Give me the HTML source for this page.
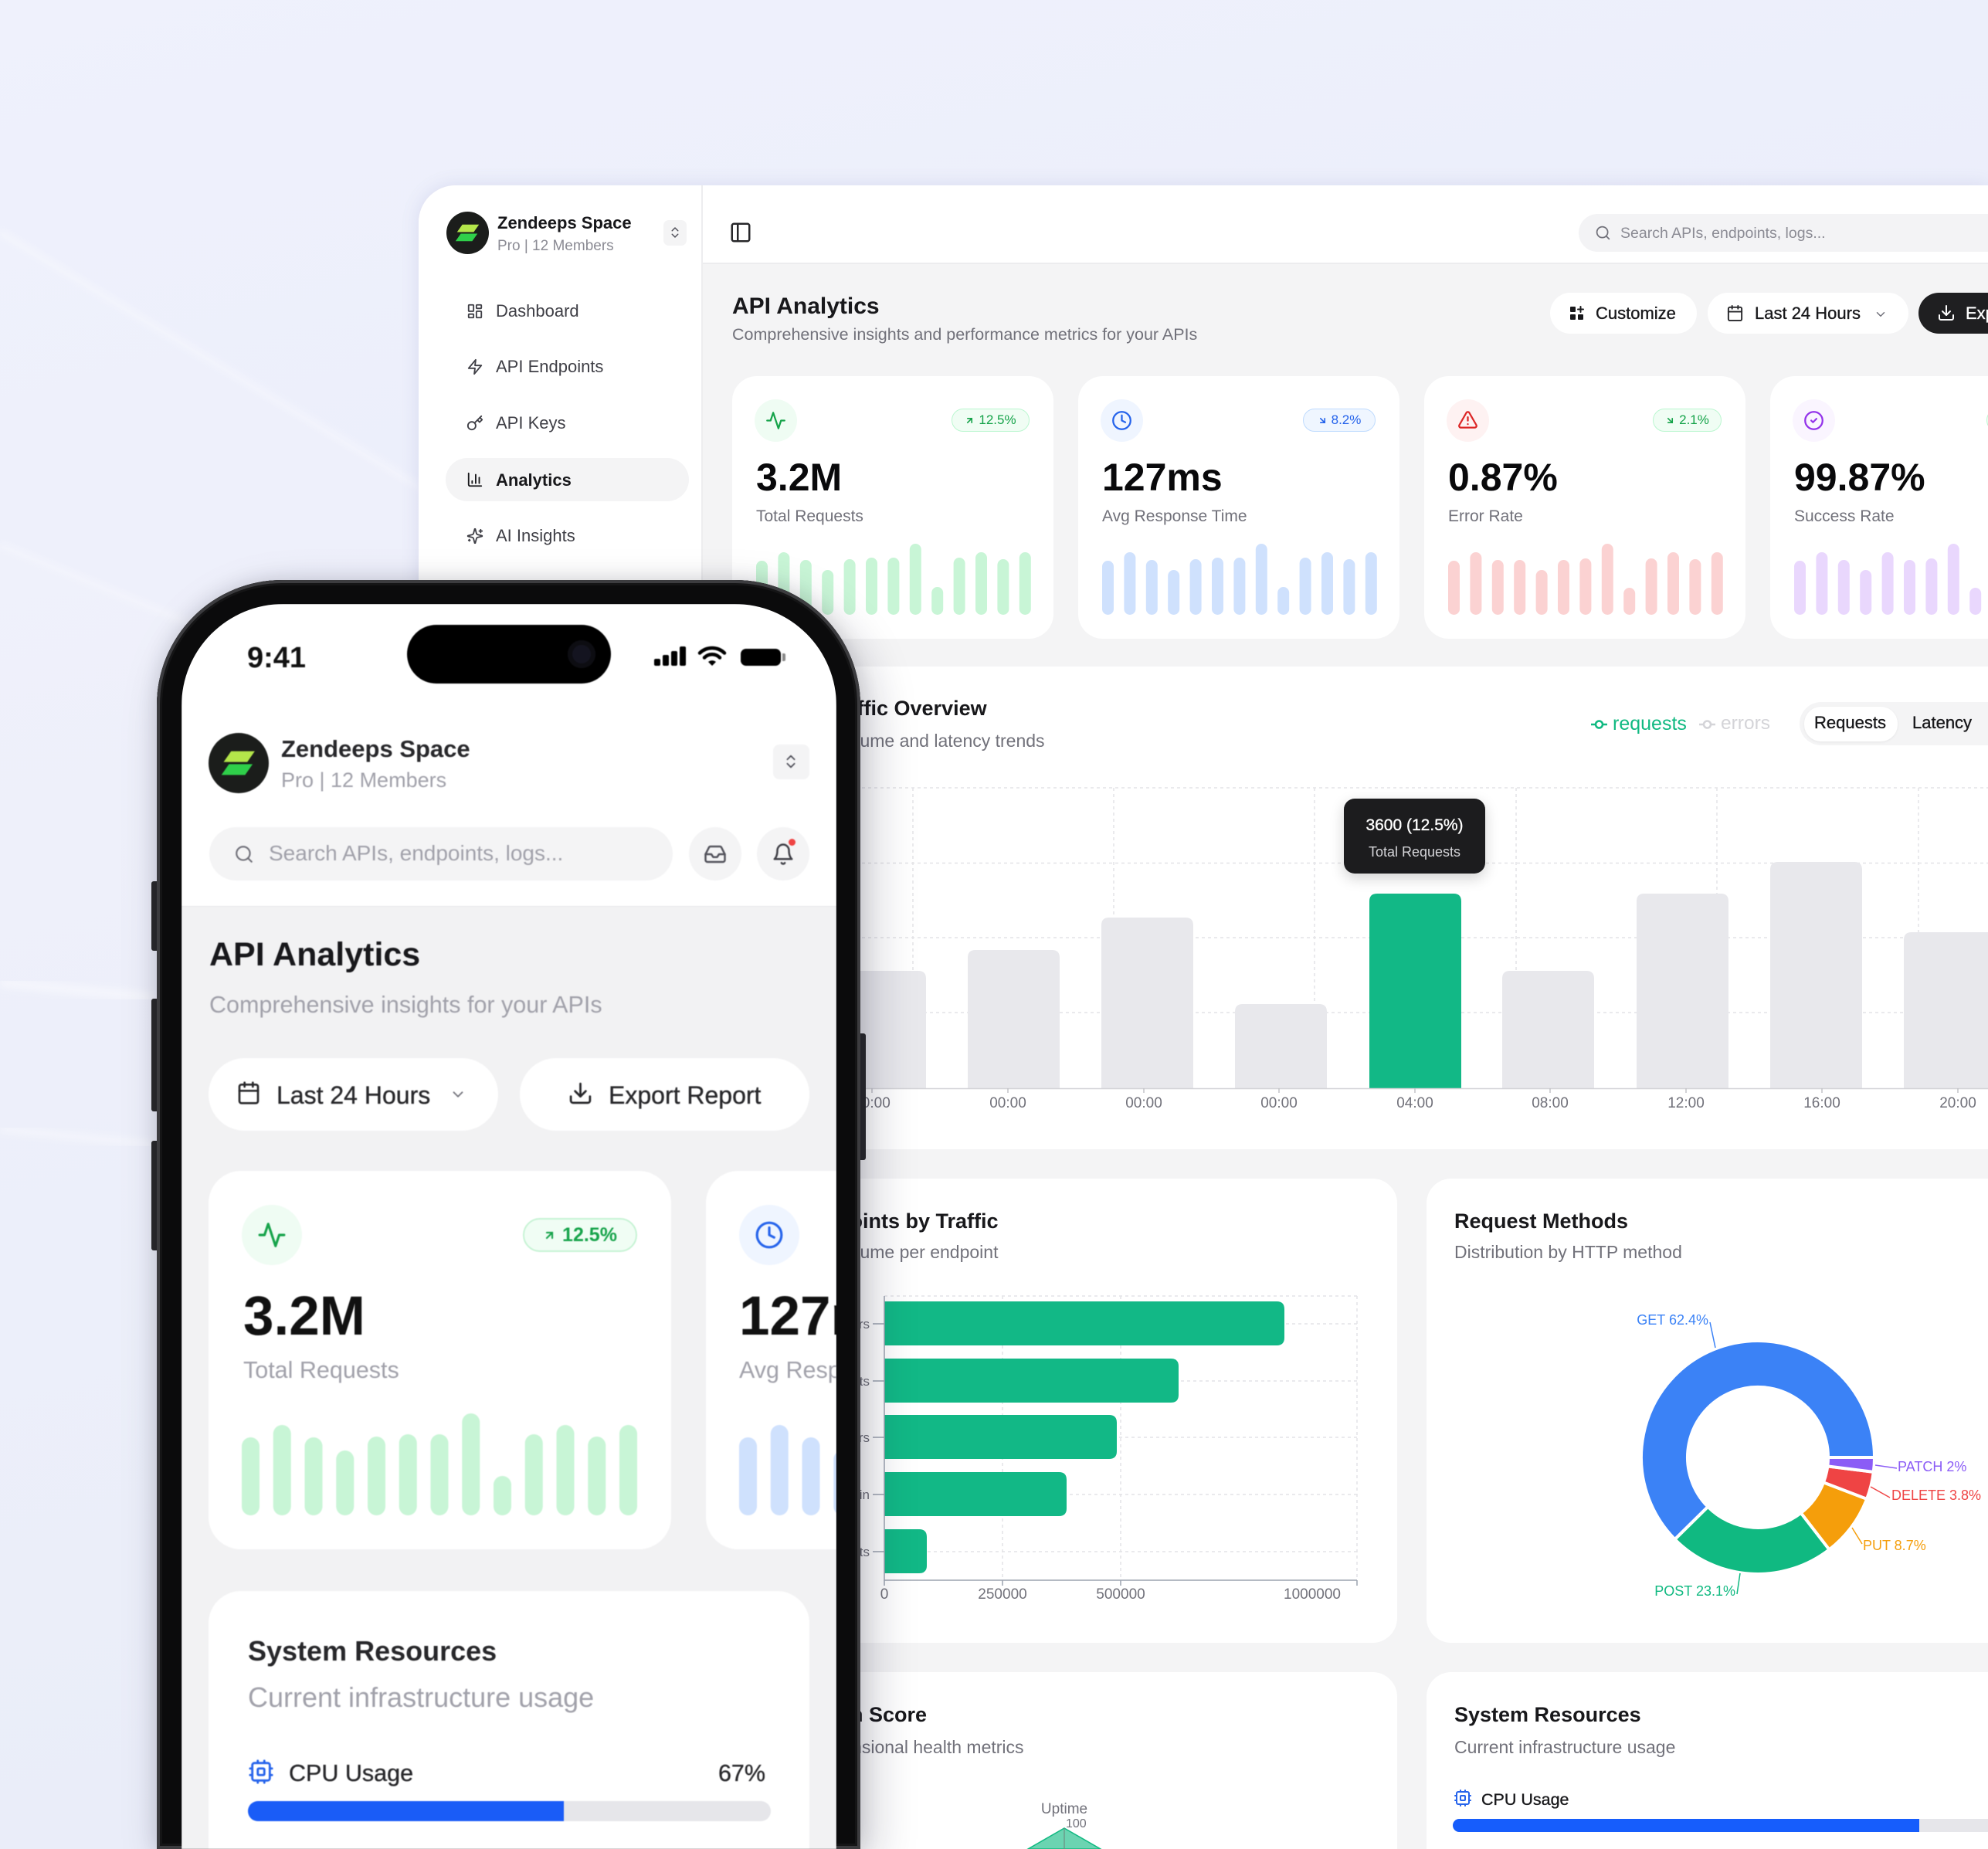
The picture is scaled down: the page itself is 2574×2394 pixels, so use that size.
<!DOCTYPE html>
<html><head><meta charset="utf-8"><style>
*{margin:0;padding:0;box-sizing:border-box}
html,body{width:2574px;height:2394px;overflow:hidden}
body{position:relative;font-family:"Liberation Sans",Arial,sans-serif;background:linear-gradient(165deg,#eff1fc 0%,#eaedfa 45%,#e5e8f8 100%)}
.a{position:absolute}
.t{position:absolute;white-space:nowrap;line-height:1}
.ic{position:absolute;fill:none;stroke-linecap:round;stroke-linejoin:round}
.card{position:absolute;background:#fff;border-radius:32px}
.sub{color:#71717a}
.b{font-weight:bold}
.med{-webkit-text-stroke:0.35px currentColor}
</style></head><body>

<!-- background decorations -->
<svg class="a" style="left:0;top:0" width="2574" height="2394">
 <defs><filter id="bl"><feGaussianBlur stdDeviation="5"/></filter></defs>
 <polygon points="0,300 560,640 560,2394 0,2394" fill="#ffffff" opacity="0.10"/>
 <line x1="0" y1="300" x2="560" y2="640" stroke="#fff" stroke-width="4" opacity="0.7" filter="url(#bl)"/>
 <polygon points="0,705 260,812 260,2394 0,2394" fill="#fff" opacity="0.08"/>
 <line x1="0" y1="705" x2="260" y2="812" stroke="#fff" stroke-width="4" opacity=".6" filter="url(#bl)"/>
 <line x1="0" y1="1272" x2="200" y2="1292" stroke="#fff" stroke-width="12" opacity=".45" filter="url(#bl)"/>
 <line x1="0" y1="1462" x2="200" y2="1482" stroke="#fff" stroke-width="8" opacity=".45" filter="url(#bl)"/>
</svg>

<!-- window -->
<div class="a" style="left:542px;top:240px;width:2032px;height:2154px;border-radius:48px 0 0 0;background:#f4f4f5;box-shadow:0 0 24px rgba(90,100,170,0.14)"></div>
<div class="a" style="left:542px;top:240px;width:368px;height:2154px;border-radius:48px 0 0 0;background:#fff;border-right:2px solid #ededef"></div>
<div class="a" style="left:910px;top:240px;width:1664px;height:102px;background:#fff;border-bottom:2px solid #ececee"></div>

<!-- sidebar -->
<svg class="a" style="left:578px;top:274px" width="55" height="55" viewBox="0 0 56 56">
 <circle cx="28" cy="28" r="28" fill="#1b1d1b"/>
 <polygon points="21,17 43,17 36,27 14,27" fill="#b4e64a"/>
 <polygon points="19,29 41,29 34,39 12,39" fill="#2fcf4a"/>
</svg>
<div class="t b" style="left:644px;top:278px;font-size:22px;color:#18181b">Zendeeps Space</div>
<div class="t" style="left:644px;top:309px;font-size:19px;color:#8b8b94">Pro | 12 Members</div>
<div class="a" style="left:859px;top:285px;width:30px;height:33px;border-radius:7px;background:#f4f4f5"></div>
<svg class="ic" style="left:865px;top:292px" width="18" height="18" viewBox="0 0 24 24" stroke="#52525b" stroke-width="2"><path d="m7 15 5 5 5-5"/><path d="m7 9 5-5 5 5"/></svg>

<div class="a" style="left:577px;top:593px;width:315px;height:56px;border-radius:28px;background:#f4f4f5"></div>
<svg class="ic" style="left:604px;top:392px" width="22" height="22" viewBox="0 0 24 24" stroke="#3f3f46" stroke-width="2"><rect x="3" y="3" width="7" height="9" rx="1"/><rect x="14" y="3" width="7" height="5" rx="1"/><rect x="14" y="12" width="7" height="9" rx="1"/><rect x="3" y="16" width="7" height="5" rx="1"/></svg>
<svg class="ic" style="left:604px;top:464px" width="22" height="22" viewBox="0 0 24 24" stroke="#3f3f46" stroke-width="2"><path d="M13 2 3 14h9l-1 8 10-12h-9l1-8z"/></svg>
<svg class="ic" style="left:604px;top:537px" width="22" height="22" viewBox="0 0 24 24" stroke="#3f3f46" stroke-width="2"><circle cx="7.5" cy="15.5" r="5.5"/><path d="m21 2-9.6 9.6"/><path d="m15.5 7.5 3 3L22 7l-3-3"/></svg>
<svg class="ic" style="left:604px;top:610px" width="22" height="22" viewBox="0 0 24 24" stroke="#18181b" stroke-width="2"><path d="M3 3v16a2 2 0 0 0 2 2h16"/><path d="M18 17V9"/><path d="M13 17V5"/><path d="M8 17v-3"/></svg>
<svg class="ic" style="left:604px;top:683px" width="22" height="22" viewBox="0 0 24 24" stroke="#3f3f46" stroke-width="2"><path d="M9.9 15.5A2 2 0 0 0 8.5 14.1l-6.1-1.6a.5.5 0 0 1 0-1L8.5 9.9A2 2 0 0 0 9.9 8.5l1.6-6.1a.5.5 0 0 1 1 0l1.6 6.1a2 2 0 0 0 1.4 1.4l6.1 1.6a.5.5 0 0 1 0 1l-6.1 1.6a2 2 0 0 0-1.4 1.4l-1.6 6.1a.5.5 0 0 1-1 0z"/><path d="M20 3v4"/><path d="M22 5h-4"/><path d="M4 17v2"/><path d="M5 18H3"/></svg>
<div class="t" style="left:642px;top:392.4px;font-size:22px;color:#3f3f46">Dashboard</div>
<div class="t" style="left:642px;top:464.4px;font-size:22px;color:#3f3f46">API Endpoints</div>
<div class="t" style="left:642px;top:537.4px;font-size:22px;color:#3f3f46">API Keys</div>
<div class="t b" style="left:642px;top:610.9px;font-size:22px;color:#18181b">Analytics</div>
<div class="t" style="left:642px;top:683.4px;font-size:22px;color:#3f3f46">AI Insights</div>

<!-- header -->
<svg class="ic" style="left:944px;top:286px" width="30" height="30" viewBox="0 0 24 24" stroke="#27272a" stroke-width="2"><rect x="3" y="3" width="18" height="18" rx="2"/><path d="M9 3v18"/></svg>
<div class="a" style="left:2044px;top:277px;width:530px;height:49px;border-radius:25px 0 0 25px;background:#f3f3f5"></div>
<svg class="ic" style="left:2065px;top:291px" width="21" height="21" viewBox="0 0 24 24" stroke="#71717a" stroke-width="2"><circle cx="11" cy="11" r="8"/><path d="m21 21-4.3-4.3"/></svg>
<div class="t" style="left:2098px;top:292.5px;font-size:19.5px;color:#8b8b94">Search APIs, endpoints, logs...</div>

<!-- page title -->
<div class="t b" style="left:948px;top:381.6px;font-size:30px;color:#18181b">API Analytics</div>
<div class="t sub" style="left:948px;top:422.8px;font-size:21.5px">Comprehensive insights and performance metrics for your APIs</div>

<!-- buttons -->
<div class="a" style="left:2007px;top:379px;width:190px;height:53px;border-radius:27px;background:#fff"></div>
<svg class="a" style="left:2032px;top:396px" width="20" height="20" viewBox="0 0 20 20"><rect x="1" y="1" width="7" height="7" rx="1" fill="#18181b"/><rect x="1" y="11" width="7" height="7" rx="1" fill="#18181b"/><rect x="11" y="11" width="7" height="7" rx="1" fill="#18181b"/><path d="M14.5 1v7M11 4.5h7" stroke="#18181b" stroke-width="2" stroke-linecap="round"/></svg>
<div class="t med" style="left:2066px;top:395.4px;font-size:22px;color:#18181b">Customize</div>
<div class="a" style="left:2211px;top:379px;width:260px;height:53px;border-radius:27px;background:#fff"></div>
<svg class="ic" style="left:2235px;top:394px" width="23" height="23" viewBox="0 0 24 24" stroke="#27272a" stroke-width="2"><rect x="3" y="4" width="18" height="18" rx="2"/><path d="M16 2v4"/><path d="M8 2v4"/><path d="M3 10h18"/></svg>
<div class="t med" style="left:2272px;top:395.4px;font-size:22px;color:#18181b">Last 24 Hours</div>
<svg class="ic" style="left:2426px;top:398px" width="18" height="18" viewBox="0 0 24 24" stroke="#71717a" stroke-width="2"><path d="m6 9 6 6 6-6"/></svg>
<div class="a" style="left:2484px;top:379px;width:90px;height:53px;border-radius:27px 0 0 27px;background:#1f1f21;overflow:hidden">
 <svg class="ic" style="left:24px;top:14px" width="24" height="24" viewBox="0 0 24 24" stroke="#fff" stroke-width="2"><path d="M21 15v4a2 2 0 0 1-2 2H5a2 2 0 0 1-2-2v-4"/><path d="M7 10l5 5 5-5"/><path d="M12 15V3"/></svg>
 <div class="t med" style="left:61px;top:16.4px;font-size:22px;color:#fff">Export</div>
</div>

<!-- stat cards -->
<div class="card" style="left:948px;top:487px;width:416px;height:340px">
 <div class="a" style="left:29px;top:30px;width:55px;height:55px;border-radius:50%;background:#effcf3"></div>
 <svg class="ic" style="left:43px;top:44px" width="27" height="27" viewBox="0 0 24 24" stroke="#16a34a" stroke-width="2"><path d="M22 12h-4l-3 9L9 3l-3 9H2"/></svg>
 <div class="a" style="left:284px;top:42px;width:101px;height:30px;border-radius:15px;background:#f0fdf4;border:1.5px solid #bbf7d0;display:flex;align-items:center;justify-content:center;gap:5px;color:#16a34a;font-size:17px">
  <svg width="13" height="13" viewBox="0 0 24 24" fill="none" stroke="#16a34a" stroke-width="3" stroke-linecap="round"><path d="M7 17 17 7"/><path d="M7 7h10v10"/></svg><span>12.5%</span></div>
 <div class="t b" style="left:31px;top:105.7px;font-size:50px;color:#09090b">3.2M</div>
 <div class="t sub" style="left:31px;top:171.2px;font-size:21px">Total Requests</div>
 <svg class="a" style="left:31px;top:213px" width="360" height="96" viewBox="0 0 360 96"><g fill="#c8f5d6">
  <rect x="0" y="26" width="15" height="70" rx="7.5"/><rect x="28.4" y="15" width="15" height="81" rx="7.5"/><rect x="56.8" y="25" width="15" height="71" rx="7.5"/><rect x="85.2" y="38" width="15" height="58" rx="7.5"/><rect x="113.6" y="24" width="15" height="72" rx="7.5"/><rect x="142" y="22" width="15" height="74" rx="7.5"/><rect x="170.4" y="22" width="15" height="74" rx="7.5"/><rect x="198.8" y="4" width="15" height="92" rx="7.5"/><rect x="227.2" y="60" width="15" height="36" rx="7.5"/><rect x="255.6" y="22" width="15" height="74" rx="7.5"/><rect x="284" y="15" width="15" height="81" rx="7.5"/><rect x="312.4" y="24" width="15" height="72" rx="7.5"/><rect x="340.8" y="15" width="15" height="81" rx="7.5"/></g></svg>
</div>

<div class="card" style="left:1396px;top:487px;width:416px;height:340px">
 <div class="a" style="left:29px;top:30px;width:55px;height:55px;border-radius:50%;background:#eff5ff"></div>
 <svg class="ic" style="left:43px;top:44px" width="27" height="27" viewBox="0 0 24 24" stroke="#2563eb" stroke-width="2"><circle cx="12" cy="12" r="10"/><path d="M12 6v6l4 2"/></svg>
 <div class="a" style="left:291px;top:42px;width:94px;height:30px;border-radius:15px;background:#eff6ff;border:1.5px solid #bfdbfe;display:flex;align-items:center;justify-content:center;gap:5px;color:#2563eb;font-size:17px">
  <svg width="13" height="13" viewBox="0 0 24 24" fill="none" stroke="#2563eb" stroke-width="3" stroke-linecap="round"><path d="M7 7l10 10"/><path d="M17 7v10H7"/></svg><span>8.2%</span></div>
 <div class="t b" style="left:31px;top:105.7px;font-size:50px;color:#09090b">127ms</div>
 <div class="t sub" style="left:31px;top:171.2px;font-size:21px">Avg Response Time</div>
 <svg class="a" style="left:31px;top:213px" width="360" height="96" viewBox="0 0 360 96"><g fill="#cfe1fd">
  <rect x="0" y="26" width="15" height="70" rx="7.5"/><rect x="28.4" y="15" width="15" height="81" rx="7.5"/><rect x="56.8" y="25" width="15" height="71" rx="7.5"/><rect x="85.2" y="38" width="15" height="58" rx="7.5"/><rect x="113.6" y="24" width="15" height="72" rx="7.5"/><rect x="142" y="22" width="15" height="74" rx="7.5"/><rect x="170.4" y="22" width="15" height="74" rx="7.5"/><rect x="198.8" y="4" width="15" height="92" rx="7.5"/><rect x="227.2" y="60" width="15" height="36" rx="7.5"/><rect x="255.6" y="22" width="15" height="74" rx="7.5"/><rect x="284" y="15" width="15" height="81" rx="7.5"/><rect x="312.4" y="24" width="15" height="72" rx="7.5"/><rect x="340.8" y="15" width="15" height="81" rx="7.5"/></g></svg>
</div>

<div class="card" style="left:1844px;top:487px;width:416px;height:340px">
 <div class="a" style="left:29px;top:30px;width:55px;height:55px;border-radius:50%;background:#fef2f2"></div>
 <svg class="ic" style="left:43px;top:43px" width="27" height="27" viewBox="0 0 24 24" stroke="#dc2626" stroke-width="2"><path d="m21.73 18-8-14a2 2 0 0 0-3.48 0l-8 14A2 2 0 0 0 4 21h16a2 2 0 0 0 1.73-3Z"/><path d="M12 9v4"/><path d="M12 17h.01"/></svg>
 <div class="a" style="left:296px;top:42px;width:89px;height:30px;border-radius:15px;background:#f0fdf4;border:1.5px solid #bbf7d0;display:flex;align-items:center;justify-content:center;gap:5px;color:#16a34a;font-size:17px">
  <svg width="13" height="13" viewBox="0 0 24 24" fill="none" stroke="#16a34a" stroke-width="3" stroke-linecap="round"><path d="M7 7l10 10"/><path d="M17 7v10H7"/></svg><span>2.1%</span></div>
 <div class="t b" style="left:31px;top:105.7px;font-size:50px;color:#09090b">0.87%</div>
 <div class="t sub" style="left:31px;top:171.2px;font-size:21px">Error Rate</div>
 <svg class="a" style="left:31px;top:213px" width="360" height="96" viewBox="0 0 360 96"><g fill="#fbd2d2">
  <rect x="0" y="26" width="15" height="70" rx="7.5"/><rect x="28.4" y="15" width="15" height="81" rx="7.5"/><rect x="56.8" y="25" width="15" height="71" rx="7.5"/><rect x="85.2" y="25" width="15" height="71" rx="7.5"/><rect x="113.6" y="38" width="15" height="58" rx="7.5"/><rect x="142" y="25" width="15" height="71" rx="7.5"/><rect x="170.4" y="23" width="15" height="73" rx="7.5"/><rect x="198.8" y="4" width="15" height="92" rx="7.5"/><rect x="227.2" y="61" width="15" height="35" rx="7.5"/><rect x="255.6" y="23" width="15" height="73" rx="7.5"/><rect x="284" y="15" width="15" height="81" rx="7.5"/><rect x="312.4" y="24" width="15" height="72" rx="7.5"/><rect x="340.8" y="15" width="15" height="81" rx="7.5"/></g></svg>
</div>

<div class="card" style="left:2292px;top:487px;width:282px;height:340px;border-radius:32px 0 0 32px;overflow:hidden">
 <div class="a" style="left:29px;top:30px;width:55px;height:55px;border-radius:50%;background:#faf5ff"></div>
 <svg class="ic" style="left:43px;top:44px" width="27" height="27" viewBox="0 0 24 24" stroke="#9333ea" stroke-width="2"><circle cx="12" cy="12" r="10"/><path d="m9 12 2 2 4-4"/></svg>
 <div class="a" style="left:280px;top:42px;width:89px;height:30px;border-radius:15px;background:#f0fdf4;border:1.5px solid #bbf7d0"></div>
 <div class="t b" style="left:31px;top:105.7px;font-size:50px;color:#09090b">99.87%</div>
 <div class="t sub" style="left:31px;top:171.2px;font-size:21px">Success Rate</div>
 <svg class="a" style="left:31px;top:213px" width="251" height="96" viewBox="0 0 251 96"><g fill="#e9d7fd">
  <rect x="0" y="26" width="15" height="70" rx="7.5"/><rect x="28.4" y="15" width="15" height="81" rx="7.5"/><rect x="56.8" y="25" width="15" height="71" rx="7.5"/><rect x="85.2" y="38" width="15" height="58" rx="7.5"/><rect x="113.6" y="15" width="15" height="81" rx="7.5"/><rect x="142" y="25" width="15" height="71" rx="7.5"/><rect x="170.4" y="23" width="15" height="73" rx="7.5"/><rect x="198.8" y="4" width="15" height="92" rx="7.5"/><rect x="227.2" y="61" width="15" height="35" rx="7.5"/></g></svg>
</div>

<!-- lower cards backgrounds -->
<div class="card" style="left:948px;top:863px;width:1626px;height:625px;border-radius:32px 0 0 32px"></div>
<div class="card" style="left:948px;top:1526px;width:861px;height:601px"></div>
<div class="card" style="left:1847px;top:1526px;width:727px;height:601px;border-radius:32px 0 0 32px"></div>
<div class="card" style="left:948px;top:2165px;width:861px;height:229px;border-radius:32px 32px 0 0"></div>
<div class="card" style="left:1847px;top:2165px;width:727px;height:229px;border-radius:32px 0 0 0"></div>

<!-- charts svg -->
<svg class="a" style="left:0;top:0" width="2574" height="2394">
 <!-- traffic grid -->
 <g stroke="#e4e4e7" stroke-width="1.5" stroke-dasharray="4 4" fill="none">
  <path d="M1100 1020H2574M1100 1117.5H2574M1100 1214H2574M1100 1311H2574"/>
  <path d="M1182 1020V1409M1442 1020V1409M1702 1020V1409M1963 1020V1409M2223 1020V1409M2484 1020V1409"/>
 </g>
 <g fill="#e8e8ec">
  <path d="M1080 1409V1267Q1080 1257 1090 1257H1189Q1199 1257 1199 1267V1409Z"/>
  <path d="M1253 1409V1240Q1253 1230 1263 1230H1362Q1372 1230 1372 1240V1409Z"/>
  <path d="M1426 1409V1198Q1426 1188 1436 1188H1535Q1545 1188 1545 1198V1409Z"/>
  <path d="M1599 1409V1310Q1599 1300 1609 1300H1708Q1718 1300 1718 1310V1409Z"/>
  <path d="M1945 1409V1267Q1945 1257 1955 1257H2054Q2064 1257 2064 1267V1409Z"/>
  <path d="M2119 1409V1167Q2119 1157 2129 1157H2228Q2238 1157 2238 1167V1409Z"/>
  <path d="M2292 1409V1126Q2292 1116 2302 1116H2401Q2411 1116 2411 1126V1409Z"/>
  <path d="M2465 1409V1217Q2465 1207 2475 1207H2574V1409Z"/>
 </g>
 <path d="M1773 1409V1167Q1773 1157 1783 1157H1882Q1892 1157 1892 1167V1409Z" fill="#12b886"/>
 <path d="M1100 1409.5H2574" stroke="#d4d4d8" stroke-width="1.5"/>
 <g stroke="#c4c4c8" stroke-width="1.5"><path d="M1129 1409v6M1305 1409v6M1481 1409v6M1656 1409v6M1832 1409v6M2007 1409v6M2183 1409v6M2359 1409v6M2535 1409v6"/></g>
 <g font-family="Liberation Sans, sans-serif" font-size="19" fill="#71717a" text-anchor="middle">
  <text x="1129" y="1434">00:00</text><text x="1305" y="1434">00:00</text><text x="1481" y="1434">00:00</text><text x="1656" y="1434">00:00</text><text x="1832" y="1434">04:00</text><text x="2007" y="1434">08:00</text><text x="2183" y="1434">12:00</text><text x="2359" y="1434">16:00</text><text x="2535" y="1434">20:00</text>
 </g>
 <!-- legend icons -->
 <path d="M2060 938H2081" stroke="#10b981" stroke-width="2.5"/><circle cx="2070.5" cy="938" r="4.5" fill="#fff" stroke="#10b981" stroke-width="2.5"/>
 <path d="M2200 938H2221" stroke="#d4d4d8" stroke-width="2.5"/><circle cx="2210.5" cy="938" r="4.5" fill="#fff" stroke="#d4d4d8" stroke-width="2.5"/>

 <!-- hbar chart -->
 <g stroke="#e4e4e7" stroke-width="1.5" stroke-dasharray="4 4" fill="none">
  <path d="M1298 1678V2046M1451 1678V2046M1757 1678V2046"/>
  <path d="M1145 1678H1757M1145 1714H1757M1145 1788H1757M1145 1861H1757M1145 1935H1757M1145 2009H1757"/>
 </g>
 <g fill="#12b886">
  <path d="M1145 1685H1653Q1663 1685 1663 1695V1732Q1663 1742 1653 1742H1145Z"/>
  <path d="M1145 1759H1516Q1526 1759 1526 1769V1806Q1526 1816 1516 1816H1145Z"/>
  <path d="M1145 1832H1436Q1446 1832 1446 1842V1879Q1446 1889 1436 1889H1145Z"/>
  <path d="M1145 1906H1371Q1381 1906 1381 1916V1953Q1381 1963 1371 1963H1145Z"/>
  <path d="M1145 1980H1190Q1200 1980 1200 1990V2027Q1200 2037 1190 2037H1145Z"/>
 </g>
 <g stroke="#9ca3af" stroke-width="1.5" fill="none">
  <path d="M1145 1678V2046H1757"/>
  <path d="M1130 1714H1145M1130 1788H1145M1130 1861H1145M1130 1935H1145M1130 2009H1145"/>
  <path d="M1145 2046v7M1298 2046v7M1451 2046v7M1757 2046v7"/>
 </g>
 <g font-family="Liberation Sans, sans-serif" font-size="17" fill="#71717a" text-anchor="end">
  <text x="1126" y="1720">/api/users</text><text x="1126" y="1794">/api/products</text><text x="1126" y="1867">/api/orders</text><text x="1126" y="1941">/api/auth/login</text><text x="1126" y="2015">/api/payments</text>
 </g>
 <g font-family="Liberation Sans, sans-serif" font-size="19" fill="#71717a" text-anchor="middle">
  <text x="1145" y="2070">0</text><text x="1298" y="2070">250000</text><text x="1451" y="2070">500000</text><text x="1699" y="2070">1000000</text>
 </g>

 <!-- donut -->
 <g stroke="#fff" stroke-width="4" stroke-linejoin="round">
  <path d="M2427 1887A151 151 0 1 0 2168.6 1993.1L2211.3 1950.9A91 91 0 1 1 2367 1887Z" fill="#3b82f6"/>
  <path d="M2168.6 1993.1A151 151 0 0 0 2368.5 2006.3L2331.8 1958.9A91 91 0 0 1 2211.3 1950.9Z" fill="#10b981"/>
  <path d="M2368.5 2006.3A151 151 0 0 0 2417.1 1940.8L2361 1919.4A91 91 0 0 1 2331.8 1958.9Z" fill="#f59e0b"/>
  <path d="M2417.1 1940.8A151 151 0 0 0 2425.8 1905.9L2366.3 1898.4A91 91 0 0 1 2361 1919.4Z" fill="#ef4444"/>
  <path d="M2425.8 1905.9A151 151 0 0 0 2427 1887L2367 1887A91 91 0 0 1 2366.3 1898.4Z" fill="#8b5cf6"/>
 </g>
 <g fill="none" stroke-width="1.5">
  <path d="M2221 1745L2214 1712" stroke="#3b82f6"/>
  <path d="M2428 1897L2456 1901" stroke="#8b5cf6"/>
  <path d="M2422 1925L2447 1939" stroke="#ef4444"/>
  <path d="M2398 1978L2411 1999" stroke="#f59e0b"/>
  <path d="M2253 2037L2249 2064" stroke="#10b981"/>
 </g>
 <g font-family="Liberation Sans, sans-serif" font-size="18">
  <text x="2212" y="1715" text-anchor="end" fill="#3b82f6">GET 62.4%</text>
  <text x="2457" y="1905" fill="#8b5cf6">PATCH 2%</text>
  <text x="2449" y="1942" fill="#ef4444">DELETE 3.8%</text>
  <text x="2412" y="2007" fill="#f59e0b">PUT 8.7%</text>
  <text x="2247" y="2066" text-anchor="end" fill="#10b981">POST 23.1%</text>
 </g>

 <!-- radar -->
 <polygon points="1378,2367 1425,2394 1331,2394" fill="#10b981" fill-opacity="0.62" stroke="#10b981" stroke-width="1.5"/>
 <path d="M1378 2367V2394" stroke="#6b8f80" stroke-width="1.2"/>
 <text x="1378" y="2348" text-anchor="middle" font-family="Liberation Sans, sans-serif" font-size="19" fill="#71717a">Uptime</text>
 <text x="1380" y="2366" font-family="Liberation Sans, sans-serif" font-size="16" fill="#71717a">100</text>
</svg>

<!-- traffic texts -->
<div class="t b" style="left:1069px;top:904.1px;font-size:27px;color:#18181b">Traffic Overview</div>
<div class="t sub" style="left:992px;top:947.5px;font-size:23px">Request volume and latency trends</div>
<div class="t" style="left:2088px;top:924.8px;font-size:25px;color:#10b981">requests</div>
<div class="t" style="left:2228px;top:925.3px;font-size:24.5px;color:#d4d4d8">errors</div>
<div class="a" style="left:2330px;top:909px;width:244px;height:56px;border-radius:28px 0 0 28px;background:#f4f4f5"></div>
<div class="a" style="left:2336px;top:915px;width:121px;height:45px;border-radius:22px;background:#fff;box-shadow:0 1px 3px rgba(0,0,0,0.06)"></div>
<div class="t med" style="left:2349px;top:925.4px;font-size:22px;color:#18181b">Requests</div>
<div class="t med" style="left:2476px;top:925.4px;font-size:22px;color:#18181b">Latency</div>

<!-- tooltip -->
<div class="a" style="left:1740px;top:1034px;width:183px;height:97px;border-radius:14px;background:#1c1c1e;box-shadow:0 6px 18px rgba(0,0,0,0.18)">
 <div class="t med" style="left:0;width:183px;text-align:center;top:24.2px;font-size:21px;color:#fff">3600 (12.5%)</div>
 <div class="t" style="left:0;width:183px;text-align:center;top:59.8px;font-size:18px;color:#d4d4d8">Total Requests</div>
</div>

<!-- endpoints / methods texts -->
<div class="t b" style="left:978px;top:1568.1px;font-size:27px;color:#18181b">Top Endpoints by Traffic</div>
<div class="t sub" style="left:992px;top:1609.5px;font-size:23px">Request volume per endpoint</div>
<div class="t b" style="left:1883px;top:1568.1px;font-size:27px;color:#18181b">Request Methods</div>
<div class="t sub" style="left:1883px;top:1609.5px;font-size:23px">Distribution by HTTP method</div>

<!-- bottom cards texts -->
<div class="t b" style="left:1035px;top:2207.1px;font-size:27px;color:#18181b">Health Score</div>
<div class="t sub" style="left:997px;top:2250.5px;font-size:23px">Multi-dimensional health metrics</div>
<div class="t b" style="left:1883px;top:2207.1px;font-size:27px;color:#18181b">System Resources</div>
<div class="t sub" style="left:1883px;top:2250.5px;font-size:23px">Current infrastructure usage</div>
<svg class="ic" style="left:1882px;top:2316px" width="24" height="24" viewBox="0 0 24 24" stroke="#2563eb" stroke-width="2"><rect x="4" y="4" width="16" height="16" rx="2"/><rect x="9" y="9" width="6" height="6" rx="1"/><path d="M15 2v2M15 20v2M2 15h2M2 9h2M20 15h2M20 9h2M9 2v2M9 20v2"/></svg>
<div class="t med" style="left:1918px;top:2319.8px;font-size:21.5px;color:#18181b">CPU Usage</div>
<div class="a" style="left:1881px;top:2355px;width:693px;height:17px;border-radius:9px 0 0 9px;background:#e6e6ea"></div>
<div class="a" style="left:1881px;top:2355px;width:604px;height:17px;border-radius:9px 0 0 9px;background:#165dfc"></div>

<!-- ================= PHONE ================= -->
<div class="a" style="left:196px;top:1141px;width:10px;height:90px;border-radius:3px;background:#2a2a2c"></div>
<div class="a" style="left:196px;top:1293px;width:10px;height:146px;border-radius:3px;background:#2a2a2c"></div>
<div class="a" style="left:196px;top:1477px;width:10px;height:142px;border-radius:3px;background:#2a2a2c"></div>
<div class="a" style="left:1111px;top:1338px;width:10px;height:164px;border-radius:3px;background:#2a2a2c"></div>
<div class="a" style="left:203px;top:751px;width:911px;height:1643px;border-radius:162px 162px 0 0;background:#0b0b0c;box-shadow:inset 0 0 0 4px #3c3c3f,inset 0 0 0 7px #151516,14px 20px 60px rgba(20,20,50,0.22),0 0 26px rgba(0,0,0,0.12)"></div>

<div class="a" style="left:0;top:0;width:2574px;height:2394px;clip-path:inset(782px 1491px 0 235px round 132px 132px 0 0);filter:blur(0.6px)">
 <div class="a" style="left:235px;top:782px;width:848px;height:392px;background:#fff;border-bottom:1.5px solid #e7e7ea"></div>
 <div class="a" style="left:235px;top:1174px;width:848px;height:1220px;background:#f2f2f3"></div>

 <!-- status bar -->
 <div class="t b" style="left:320px;top:832.8px;font-size:38px;color:#111">9:41</div>
 <div class="a" style="left:527px;top:809px;width:264px;height:76px;border-radius:38px;background:#000"></div>
 <div class="a" style="left:735px;top:829px;width:36px;height:36px;border-radius:50%;background:#141420;box-shadow:inset 0 0 0 6px #0d0d12"></div>
 <svg class="a" style="left:847px;top:836px" width="44" height="27" viewBox="0 0 44 27"><g fill="#000"><rect x="0" y="17" width="8" height="9" rx="2"/><rect x="11" y="12" width="8" height="14" rx="2"/><rect x="22" y="7" width="8" height="19" rx="2"/><rect x="33" y="1" width="8" height="25" rx="2"/></g></svg>
 <svg class="a" style="left:903px;top:836px" width="38" height="27" viewBox="0 0 38 27"><g fill="none" stroke="#000" stroke-width="4.5" stroke-linecap="round"><path d="M3 9.5a23 23 0 0 1 32 0"/><path d="M9 15.5a14 14 0 0 1 20 0"/></g><path d="M14 21a7.5 7.5 0 0 1 10 0l-5 5z" fill="#000"/></svg>
 <div class="a" style="left:959px;top:840px;width:52px;height:22px;border-radius:7px;background:#000"></div>
 <div class="a" style="left:1013px;top:846px;width:4px;height:10px;border-radius:0 2px 2px 0;background:#888"></div>

 <!-- phone header -->
 <svg class="a" style="left:270px;top:949px" width="78" height="78" viewBox="0 0 56 56">
  <circle cx="28" cy="28" r="28" fill="#1b1d1b"/>
  <polygon points="21,17 43,17 36,27 14,27" fill="#b4e64a"/>
  <polygon points="19,29 41,29 34,39 12,39" fill="#2fcf4a"/>
 </svg>
 <div class="t b" style="left:364px;top:953.8px;font-size:31px;color:#27272a">Zendeeps Space</div>
 <div class="t" style="left:364px;top:997.1px;font-size:27px;color:#a1a1aa">Pro | 12 Members</div>
 <div class="a" style="left:1001px;top:964px;width:47px;height:45px;border-radius:8px;background:#f4f4f5"></div>
 <svg class="ic" style="left:1013px;top:975px" width="22" height="22" viewBox="0 0 24 24" stroke="#52525b" stroke-width="2"><path d="m7 15 5 5 5-5"/><path d="m7 9 5-5 5 5"/></svg>

 <div class="a" style="left:271px;top:1071px;width:600px;height:69px;border-radius:35px;background:#f4f4f5"></div>
 <svg class="ic" style="left:303px;top:1093px" width="26" height="26" viewBox="0 0 24 24" stroke="#71717a" stroke-width="2"><circle cx="11" cy="11" r="8"/><path d="m21 21-4.3-4.3"/></svg>
 <div class="t" style="left:348px;top:1091.3px;font-size:28px;color:#a1a1aa">Search APIs, endpoints, logs...</div>
 <div class="a" style="left:892px;top:1071px;width:68px;height:69px;border-radius:50%;background:#f4f4f5"></div>
 <svg class="ic" style="left:911px;top:1091px" width="30" height="30" viewBox="0 0 24 24" stroke="#52525b" stroke-width="2"><path d="M22 12h-6l-2 3h-4l-2-3H2"/><path d="M5.45 5.11 2 12v6a2 2 0 0 0 2 2h16a2 2 0 0 0 2-2v-6l-3.45-6.89A2 2 0 0 0 16.76 4H7.24a2 2 0 0 0-1.790 1.11z"/></svg>
 <div class="a" style="left:980px;top:1071px;width:68px;height:69px;border-radius:50%;background:#f4f4f5"></div>
 <svg class="ic" style="left:999px;top:1091px" width="30" height="30" viewBox="0 0 24 24" stroke="#3f3f46" stroke-width="2"><path d="M6 8a6 6 0 0 1 12 0c0 7 3 9 3 9H3s3-2 3-9"/><path d="M10.3 21a1.94 1.94 0 0 0 3.4 0"/></svg>
 <div class="a" style="left:1021px;top:1086px;width:9px;height:9px;border-radius:50%;background:#ef4444"></div>

 <!-- phone title -->
 <div class="t b" style="left:271px;top:1214.6px;font-size:43px;color:#18181b">API Analytics</div>
 <div class="t" style="left:271px;top:1286.2px;font-size:30.5px;color:#a1a1aa">Comprehensive insights for your APIs</div>

 <div class="a" style="left:270px;top:1370px;width:375px;height:94px;border-radius:47px;background:#fff"></div>
 <svg class="ic" style="left:306px;top:1399px" width="32" height="32" viewBox="0 0 24 24" stroke="#27272a" stroke-width="2"><rect x="3" y="4" width="18" height="18" rx="2"/><path d="M16 2v4"/><path d="M8 2v4"/><path d="M3 10h18"/></svg>
 <div class="t med" style="left:358px;top:1401.9px;font-size:32px;color:#27272a">Last 24 Hours</div>
 <svg class="ic" style="left:582px;top:1406px" width="22" height="22" viewBox="0 0 24 24" stroke="#71717a" stroke-width="2"><path d="m6 9 6 6 6-6"/></svg>
 <div class="a" style="left:673px;top:1370px;width:375px;height:94px;border-radius:47px;background:#fff"></div>
 <svg class="ic" style="left:735px;top:1399px" width="33" height="33" viewBox="0 0 24 24" stroke="#27272a" stroke-width="2"><path d="M21 15v4a2 2 0 0 1-2 2H5a2 2 0 0 1-2-2v-4"/><path d="M7 10l5 5 5-5"/><path d="M12 15V3"/></svg>
 <div class="t med" style="left:788px;top:1401.9px;font-size:32px;color:#27272a">Export Report</div>

 <!-- phone stat card 1 -->
 <div class="a" style="left:270px;top:1516px;width:599px;height:490px;border-radius:42px;background:#fff"></div>
 <div class="a" style="left:313px;top:1560px;width:78px;height:78px;border-radius:50%;background:#effcf3"></div>
 <svg class="ic" style="left:333px;top:1580px" width="38" height="38" viewBox="0 0 24 24" stroke="#16a34a" stroke-width="2"><path d="M22 12h-4l-3 9L9 3l-3 9H2"/></svg>
 <div class="a" style="left:677px;top:1577px;width:148px;height:44px;border-radius:22px;background:#f0fdf4;border:2px solid #c6f3d4;display:flex;align-items:center;justify-content:center;gap:8px;color:#16a34a;font-size:25px;font-weight:bold">
  <svg width="17" height="17" viewBox="0 0 24 24" fill="none" stroke="#16a34a" stroke-width="3" stroke-linecap="round"><path d="M7 17 17 7"/><path d="M7 7h10v10"/></svg><span>12.5%</span></div>
 <div class="t b" style="left:315px;top:1668.9px;font-size:71px;color:#111">3.2M</div>
 <div class="t" style="left:315px;top:1759.2px;font-size:30.5px;color:#a1a1aa">Total Requests</div>
 <svg class="a" style="left:313px;top:1826px" width="515" height="136" viewBox="0 0 515 136"><g fill="#c8f5d6">
  <rect x="0" y="35" width="23" height="101" rx="11.5"/><rect x="40.75" y="19" width="23" height="117" rx="11.5"/><rect x="81.5" y="35" width="23" height="101" rx="11.5"/><rect x="122.25" y="52" width="23" height="84" rx="11.5"/><rect x="163" y="34" width="23" height="102" rx="11.5"/><rect x="203.75" y="31" width="23" height="105" rx="11.5"/><rect x="244.5" y="31" width="23" height="105" rx="11.5"/><rect x="285.25" y="4" width="23" height="132" rx="11.5"/><rect x="326" y="85" width="23" height="51" rx="11.5"/><rect x="366.75" y="31" width="23" height="105" rx="11.5"/><rect x="407.5" y="19" width="23" height="117" rx="11.5"/><rect x="448.25" y="34" width="23" height="102" rx="11.5"/><rect x="489" y="19" width="23" height="117" rx="11.5"/></g></svg>

 <!-- phone stat card 2 -->
 <div class="a" style="left:914px;top:1516px;width:169px;height:490px;border-radius:42px 0 0 42px;background:#fff"></div>
 <div class="a" style="left:957px;top:1560px;width:78px;height:78px;border-radius:50%;background:#eff5ff"></div>
 <svg class="ic" style="left:977px;top:1580px" width="38" height="38" viewBox="0 0 24 24" stroke="#2563eb" stroke-width="2"><circle cx="12" cy="12" r="10"/><path d="M12 6v6l4 2"/></svg>
 <div class="t b" style="left:957px;top:1668.9px;font-size:71px;color:#111">127ms</div>
 <div class="t" style="left:957px;top:1759.2px;font-size:30.5px;color:#a1a1aa">Avg Response Time</div>
 <svg class="a" style="left:957px;top:1826px" width="126" height="136" viewBox="0 0 126 136"><g fill="#cfe1fd">
  <rect x="0" y="35" width="23" height="101" rx="11.5"/><rect x="40.75" y="19" width="23" height="117" rx="11.5"/><rect x="81.5" y="35" width="23" height="101" rx="11.5"/><rect x="122.25" y="52" width="23" height="84" rx="11.5"/></g></svg>

 <!-- phone system resources -->
 <div class="a" style="left:270px;top:2060px;width:778px;height:334px;border-radius:42px 42px 0 0;background:#fff"></div>
 <div class="t b" style="left:321px;top:2119.5px;font-size:36px;color:#27272a">System Resources</div>
 <div class="t" style="left:321px;top:2179.5px;font-size:36px;color:#a1a1aa">Current infrastructure usage</div>
 <svg class="ic" style="left:321px;top:2277px" width="34" height="34" viewBox="0 0 24 24" stroke="#2563eb" stroke-width="2"><rect x="4" y="4" width="16" height="16" rx="2"/><rect x="9" y="9" width="6" height="6" rx="1"/><path d="M15 2v2M15 20v2M2 15h2M2 9h2M20 15h2M20 9h2M9 2v2M9 20v2"/></svg>
 <div class="t med" style="left:374px;top:2281.2px;font-size:30.5px;color:#27272a">CPU Usage</div>
 <div class="t med" style="left:891px;width:100px;text-align:right;top:2281.2px;font-size:30.5px;color:#27272a">67%</div>
 <div class="a" style="left:321px;top:2332px;width:677px;height:26px;border-radius:13px;background:#e6e6ea"></div>
 <div class="a" style="left:321px;top:2332px;width:409px;height:26px;border-radius:13px 0 0 13px;background:#1a5cf7"></div>
</div>

</body></html>
